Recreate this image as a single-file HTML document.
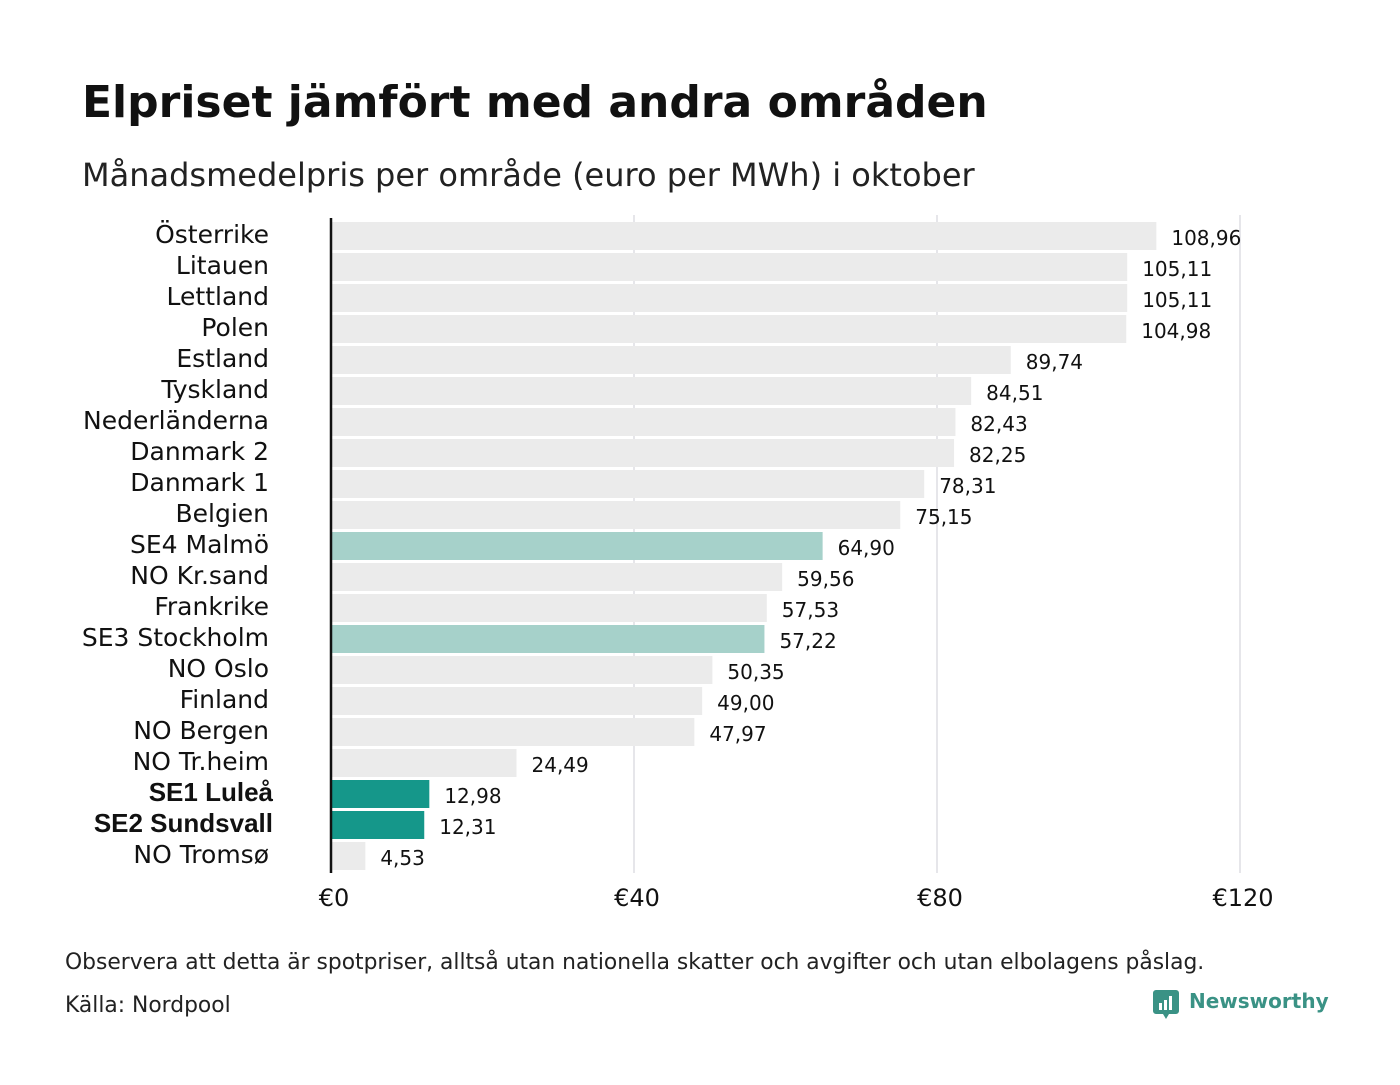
<!DOCTYPE html>
<html><head><meta charset="utf-8"><style>
body{margin:0;background:#fff;font-family:"Liberation Sans","DejaVu Sans",sans-serif;}
svg text{font-family:"DejaVu Sans","Liberation Sans",sans-serif;}
</style></head><body>
<svg width="1400" height="1080" xmlns="http://www.w3.org/2000/svg" id="chart">
<text x="82" y="117" font-size="44" font-weight="bold" fill="#111">Elpriset jämfört med andra områden</text>
<text x="82" y="186" font-size="32" fill="#222">Månadsmedelpris per område (euro per MWh) i oktober</text>
<g id="grid"></g><g id="bars"></g>
<line x1="331" y1="218" x2="331" y2="873" stroke="#111" stroke-width="2.5"/>
<text x="65" y="969" font-size="21.8" fill="#222">Observera att detta är spotpriser, alltså utan nationella skatter och avgifter och utan elbolagens påslag.</text>
<text x="65" y="1012" font-size="21.8" fill="#222">Källa: Nordpool</text>
<g>
<path d="M1156 990 h20 a3 3 0 0 1 3 3 v18 a3 3 0 0 1 -3 3 h-7 l-3 5 l-3 -5 h-7 a3 3 0 0 1 -3 -3 v-18 a3 3 0 0 1 3 -3z" fill="#3a9285"/>
<rect x="1159" y="1003" width="3" height="7" fill="#fff"/><rect x="1164" y="1000" width="3" height="10" fill="#fff"/><rect x="1169" y="996" width="3" height="14" fill="#fff"/>
<text x="1189" y="1008" font-size="20" font-weight="bold" fill="#3a9285">Newsworthy</text>
</g>
</svg>
<script>
const categories=["Österrike","Litauen","Lettland","Polen","Estland","Tyskland","Nederländerna","Danmark  2","Danmark  1","Belgien","SE4  Malmö","NO Kr.sand","Frankrike","SE3  Stockholm","NO Oslo","Finland","NO Bergen","NO Tr.heim","SE1 Luleå","SE2 Sundsvall","NO Tromsø"];
const values=[108.96,105.11,105.11,104.98,89.74,84.51,82.43,82.25,78.31,75.15,64.90,59.56,57.53,57.22,50.35,49.00,47.97,24.49,12.98,12.31,4.53];
const highlight=["none","none","none","none","none","none","none","none","none","none","mid","none","none","mid","none","none","none","none","strong","strong","none"];
const ticks=[0,40,80,120];
const tickLabels=["€0","€40","€80","€120"];
const NS="http://www.w3.org/2000/svg";
const x=v=>331+v*(1240-331)/120;
const y=i=>222+i*31;
function mk(t,a,p){const e=document.createElementNS(NS,t);for(const k in a)e.setAttribute(k,a[k]);p.appendChild(e);return e;}
const g=document.getElementById('grid'),b=document.getElementById('bars');
ticks.forEach((t,i)=>{
 if(t>0){const l=mk('line',{x1:x(t),x2:x(t),y1:215,y2:873,stroke:'#ccccd4','stroke-width':1},g);
 
 }
 const tx=mk('text',{x:x(t)+3,y:906,'font-size':24,fill:'#111','text-anchor':'middle'},g);tx.textContent=tickLabels[i];
 
 
});
const fills={none:'#ebebeb',mid:'#a6d1ca',strong:'#15978a'};
categories.forEach((c,i)=>{
 const r=mk('rect',{x:332,y:y(i),width:x(values[i])-332,height:28,fill:fills[highlight[i]]},b);
 
 
 const strong=highlight[i]==='strong';
 const lb=mk('text',{x:strong?273:269,y:y(i)+21,'font-size':strong?26:25,fill:'#111','text-anchor':'end','font-weight':strong?'bold':'normal'},b);
 if(strong)lb.setAttribute('style','font-family:"Liberation Sans",sans-serif');
 lb.textContent=c;
 
 
 const v=mk('text',{x:x(values[i])+15,y:y(i)+23,'font-size':20,fill:'#111'},b);
 v.textContent=values[i].toFixed(2).replace('.',',');
 
 
});
</script>
</body></html>
